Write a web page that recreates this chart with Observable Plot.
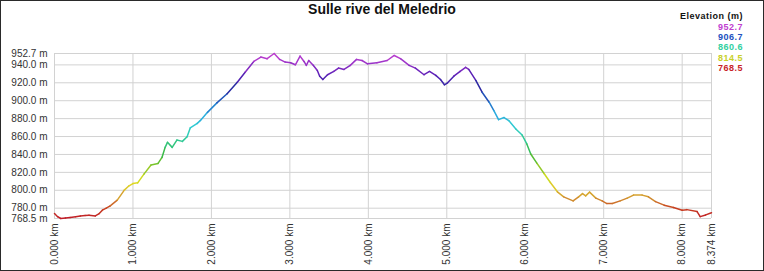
<!DOCTYPE html>
<html>
<head>
<meta charset="utf-8">
<script src="https://cdn.jsdelivr.net/npm/d3@7"></script>
<script src="https://cdn.jsdelivr.net/npm/@observablehq/plot@0.6"></script>
<style>
  html, body { margin: 0; padding: 0; background: #fff; }
  #wrap { position: relative; width: 764px; height: 271px; overflow: hidden; font-family: "Liberation Sans", Arial, sans-serif; }
  #chart { position: absolute; left: 0; top: 0; }
  #border { position: absolute; left: 0; top: 0; width: 764px; height: 271px; box-sizing: border-box; border: 1px solid #2a2a2a; pointer-events: none; }
  #title { position: absolute; left: 0; width: 764px; top: 1px; text-align: center; font-weight: bold; font-size: 14px; color: #111; }
  #legend { position: absolute; right: 21px; top: 11px; text-align: right; font-weight: bold; font-size: 9px; letter-spacing: 0.5px; line-height: 10.3px; }
  #legend .head { color: #111; margin-bottom: 0.5px; }
</style>
</head>
<body>
<div id="wrap">
  <div id="chart"></div>
  <div id="title"></div>
  <div id="legend"></div>
  <div id="border"></div>
</div>
<script>
const title = "Sulle rive del Meledrio";
const legendTitle = "Elevation (m)";
const legendValues = [952.7, 906.7, 860.6, 814.5, 768.5];

const distanceKm = [0.00,0.04,0.08,0.14,0.20,0.27,0.33,0.39,0.44,0.52,0.57,0.61,0.66,0.71,0.80,0.89,0.95,1.00,1.06,1.14,1.23,1.32,1.37,1.41,1.44,1.50,1.56,1.63,1.69,1.73,1.82,1.86,1.95,2.07,2.20,2.33,2.43,2.54,2.63,2.71,2.80,2.87,2.94,3.01,3.07,3.13,3.18,3.21,3.24,3.30,3.35,3.38,3.42,3.48,3.56,3.62,3.69,3.77,3.85,3.92,3.99,4.11,4.24,4.33,4.41,4.52,4.60,4.71,4.78,4.86,4.92,4.97,5.01,5.09,5.17,5.24,5.28,5.37,5.45,5.54,5.60,5.66,5.73,5.79,5.88,5.96,6.02,6.07,6.15,6.24,6.32,6.41,6.49,6.61,6.68,6.73,6.77,6.82,6.90,6.98,7.04,7.11,7.21,7.30,7.38,7.49,7.57,7.66,7.77,7.89,8.00,8.06,8.19,8.23,8.30,8.374];
const elevationM = [774,770.5,768.5,769,769.5,770.5,771.4,771.8,772.2,771.4,774,777.8,780,782.6,789,800.2,805,807.5,808.3,818,828.2,830,836.7,847.9,853.5,847.9,856.1,854.6,859.8,869.6,874.7,878,887,897.6,907.7,920.6,931.8,943.8,948.7,946.9,952.7,946.1,943.1,942.4,940.1,949.8,943.8,939.4,944.9,939.4,933.8,927.4,923.7,929,932.7,936.4,934.9,939.4,946.1,944.9,941.2,942.4,944.9,950.5,946.9,939.4,936.4,929,932.7,928.3,923.7,917.8,920,927.4,932.7,937.2,934.9,922.6,909.5,898.3,889,878.9,881.2,877.8,868.5,861.7,851.7,840.5,830,818.7,808.7,798.3,792.7,788.2,792.7,796.3,793.8,797.9,791.2,788.2,785.2,785.2,788.2,791.2,794.6,794.6,792.7,787.4,783.4,780.7,777.8,778.4,776.2,770.6,772.5,775];

const xTicks = [0,1,2,3,4,5,6,7,8,8.374];
const yTicks = [768.5,780,800,820,840,860,880,900,920,940,952.7];

const colorStops = [768.5,780,790,800,810,825,840,855,870,885,900,915,930,945,952.7];
const colorRange = ["#c01c28","#c84020","#d08a30","#dcc030","#e0e020","#90c828","#3cb83c","#30c890","#30d0d0","#2aa8e0","#2060c0","#2828a0","#6020b8","#a838cc","#c840d0"];
const legendColors = ["#c040d0","#2050c0","#30d0a0","#c8d028","#c81e28"];

const segments = d3.range(distanceKm.length - 1).map(i => ({
  x1: distanceKm[i], x2: distanceKm[i + 1],
  y1: elevationM[i], y2: elevationM[i + 1],
  e: (elevationM[i] + elevationM[i + 1]) / 2
}));

const plot = Plot.plot({
  width: 764,
  height: 271,
  marginLeft: 54,
  marginRight: 53,
  marginTop: 53,
  marginBottom: 53,
  style: { fontFamily: "Liberation Sans, Arial, sans-serif", fontSize: "10px", color: "#333", background: "transparent" },
  x: { domain: [0, 8.374], label: null },
  y: { domain: [768.5, 952.7], label: null },
  color: { type: "linear", domain: colorStops, range: colorRange, interpolate: "rgb" },
  marks: [
    Plot.gridX(xTicks, { stroke: "#d2d2d2", strokeOpacity: 1 }),
    Plot.gridY(yTicks, { stroke: "#d2d2d2", strokeOpacity: 1 }),
    Plot.axisX(xTicks, { tickSize: 0, tickPadding: 5, tickRotate: -90, tickFormat: d => d.toFixed(3) + " km", fontSize: 10, fill: "#333" }),
    Plot.axisY(yTicks, { tickSize: 0, tickPadding: 7, tickFormat: d => d.toFixed(1) + " m", fontSize: 10, fill: "#333" }),
    Plot.link(segments, { x1: "x1", y1: "y1", x2: "x2", y2: "y2", stroke: "e", strokeWidth: 1.5, strokeLinecap: "round" })
  ]
});
document.getElementById("chart").appendChild(plot);
document.getElementById("title").textContent = title;

const lg = document.getElementById("legend");
const head = document.createElement("div");
head.className = "head";
head.textContent = legendTitle;
lg.appendChild(head);
legendValues.forEach((v, i) => {
  const d = document.createElement("div");
  d.textContent = v.toFixed(1);
  d.style.color = legendColors[i];
  lg.appendChild(d);
});
</script>
</body>
</html>
